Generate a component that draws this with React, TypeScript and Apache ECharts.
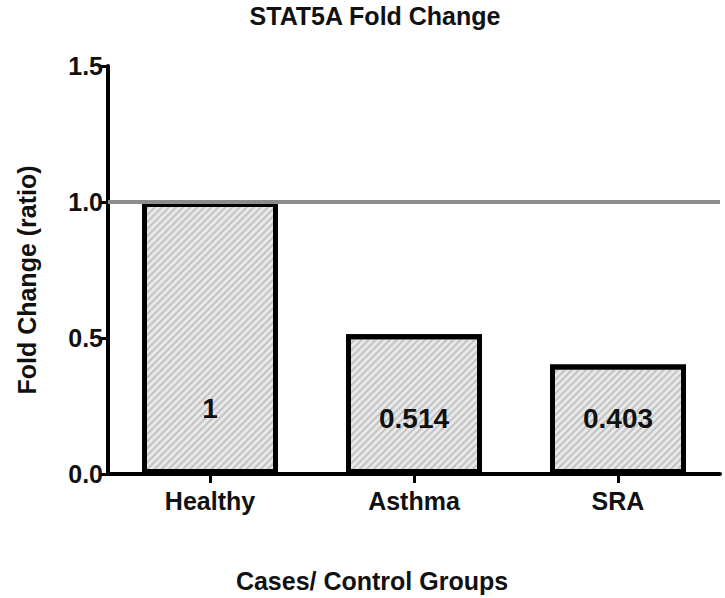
import React, { useEffect, useRef } from "react";
import * as echarts from "echarts";

const categories: string[] = ["Healthy", "Asthma", "SRA"];
const foldChange: number[] = [1, 0.514, 0.403];
const referenceLevel = 1;
const yTicks = { min: 0, max: 1.5, interval: 0.5 };

const chartTitle = "STAT5A Fold Change";
const xAxisTitle = "Cases/ Control Groups";
const yAxisTitle = "Fold Change (ratio)";

// style: distance of each value label from the bar's base (px)
const labelLift = [52, 42, 42];

const FONT = "'Liberation Sans', Arial, Helvetica, sans-serif";
const INK = "#111";

export default function App() {
  const ref = useRef<HTMLDivElement>(null);
  useEffect(() => {
    document.body.style.margin = "0";
    if (!ref.current) return;
    const chart = echarts.init(ref.current, undefined, { renderer: "svg" });
    chart.setOption({
      animation: false,
      backgroundColor: "#ffffff",
      grid: { left: 108, right: 5, top: 66, bottom: 124, containLabel: false },
      graphic: [
        {
          type: "text",
          x: 375,
          y: 16,
          style: {
            text: chartTitle,
            font: `bold 25px ${FONT}`,
            fill: INK,
            textAlign: "center",
            textVerticalAlign: "middle",
          },
        },
        {
          type: "text",
          x: 372,
          y: 581,
          style: {
            text: xAxisTitle,
            font: `bold 25px ${FONT}`,
            fill: INK,
            textAlign: "center",
            textVerticalAlign: "middle",
          },
        },
        {
          type: "text",
          x: 27,
          y: 280,
          rotation: Math.PI / 2,
          style: {
            text: yAxisTitle,
            font: `bold 25px ${FONT}`,
            fill: INK,
            textAlign: "center",
            textVerticalAlign: "middle",
          },
        },
      ],
      xAxis: {
        type: "category",
        data: categories,
        boundaryGap: true,
        axisLine: { show: true, lineStyle: { color: "#000", width: 4 } },
        axisTick: { show: true, alignWithLabel: true, length: 9, lineStyle: { color: "#000", width: 3 } },
        axisLabel: {
          margin: 14,
          color: INK,
          fontFamily: FONT,
          fontWeight: "bold",
          fontSize: 25,
        },
        splitLine: { show: false },
      },
      yAxis: {
        type: "value",
        min: yTicks.min,
        max: yTicks.max,
        interval: yTicks.interval,
        axisLine: { show: true, lineStyle: { color: "#000", width: 4 } },
        axisTick: { show: true, length: 8, lineStyle: { color: "#000", width: 3 } },
        axisLabel: {
          margin: 5,
          color: INK,
          fontFamily: FONT,
          fontWeight: "bold",
          fontSize: 25,
          formatter: (v: number) => v.toFixed(1),
        },
        splitLine: { show: false },
      },
      series: [
        {
          type: "bar",
          barWidth: 136,
          data: foldChange.map((v, i) => ({
            value: v,
            label: { distance: labelLift[i] },
          })),
          itemStyle: {
            color: "#e8e8e8",
            borderColor: "#000",
            borderWidth: 5,
            decal: {
              symbol: "rect",
              symbolSize: 1,
              dashArrayX: [1, 0],
              dashArrayY: [2, 3],
              rotation: -Math.PI / 4,
              color: "rgba(150,150,150,0.45)",
            },
          },
          label: {
            show: true,
            position: "insideBottom",
            color: INK,
            fontFamily: FONT,
            fontWeight: "bold",
            fontSize: 28,
            formatter: (p: any) => String(p.value),
          },
          markLine: {
            silent: true,
            symbol: ["none", "none"],
            label: { show: false },
            lineStyle: { color: "#8c8c8c", width: 4, type: "solid" },
            data: [{ yAxis: referenceLevel }],
          },
        },
      ],
    });
    return () => chart.dispose();
  }, []);
  return <div ref={ref} style={{ width: 725, height: 598 }} />;
}
